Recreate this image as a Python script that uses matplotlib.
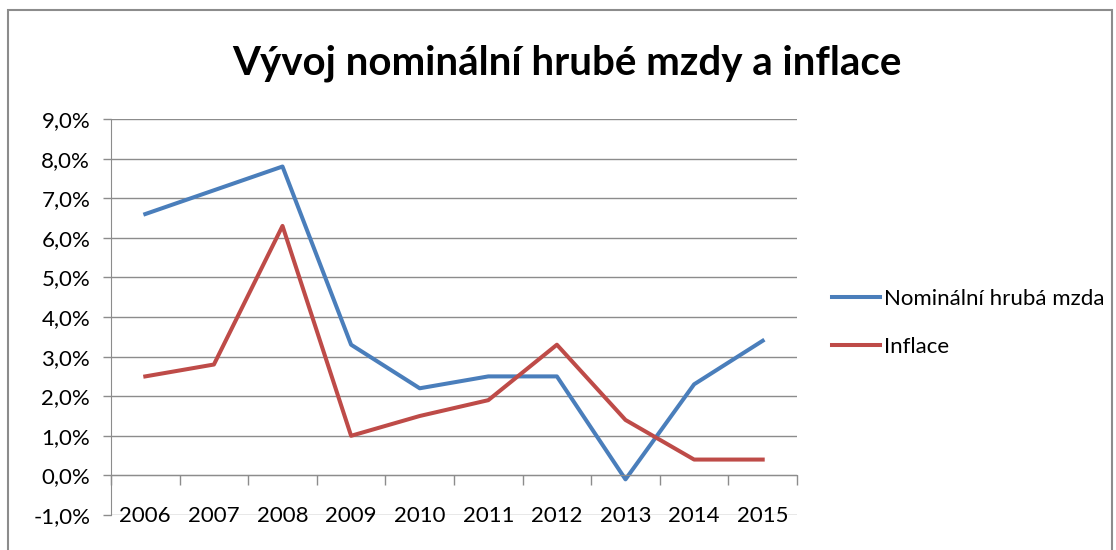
import matplotlib.pyplot as plt
from matplotlib.patches import Rectangle
from matplotlib.ticker import FuncFormatter

plt.rcParams['font.family'] = ['Lato', 'DejaVu Sans']

years = ["2006", "2007", "2008", "2009", "2010", "2011", "2012", "2013", "2014", "2015"]
mzda = [6.6, 7.2, 7.8, 3.3, 2.2, 2.5, 2.5, -0.1, 2.3, 3.4]
inflace = [2.5, 2.8, 6.3, 1.0, 1.5, 1.9, 3.3, 1.4, 0.4, 0.4]

W, H = 1116, 550
fig = plt.figure(figsize=(W / 100, H / 100), dpi=100)
ax = fig.add_axes([111 / W, 1 - 515 / H, (797 - 111) / W, (515 - 119) / H])

# outer chart border
fig.patches.append(Rectangle((8 / W, -0.1), (1112 - 8) / W, 1.1 - 10 / H,
                             transform=fig.transFigure, fill=False,
                             edgecolor="#8c8c8c", lw=1.5))

x = list(range(len(years)))
ax.plot(x, mzda, color="#4a7ebb", lw=2.9, label="Nominální hrubá mzda", solid_joinstyle="round")
ax.plot(x, inflace, color="#be4b48", lw=2.9, label="Inflace", solid_joinstyle="round")

ax.set_xlim(-0.5, len(years) - 0.5)
ax.set_ylim(-1, 9)
ax.set_yticks(range(-1, 10))
ax.yaxis.set_major_formatter(FuncFormatter(lambda v, p: f"{v:.1f}%".replace(".", ",")))
ax.yaxis.grid(True, color="#8c8c8c", lw=1)
ax.set_axisbelow(True)

for s in ["top", "right"]:
    ax.spines[s].set_visible(False)
ax.spines["left"].set_color("#8c8c8c")
ax.spines["bottom"].set_color("#8c8c8c")
ax.spines["bottom"].set_position(("data", 0))

ax.set_xticks([i - 0.5 for i in range(len(years) + 1)])
ax.set_xticklabels([])
ax.tick_params(axis="x", direction="out", length=7, color="#8c8c8c", width=1)
ax.tick_params(axis="y", direction="out", length=6, color="#8c8c8c", width=1,
               labelsize=16, pad=9)

for i, yr in enumerate(years):
    ax.text(i, -1.03, yr, ha="center", va="center", fontsize=16)

fig.text(567 / W, 1 - 63 / H, "Vývoj nominální hrubé mzdy a inflace",
         ha="center", va="center", fontsize=29, fontweight="bold")

fig.legend(loc="center left", bbox_to_anchor=(823 / W, 1 - 323 / H), frameon=False,
           borderaxespad=0, fontsize=16, handlelength=2.15, handletextpad=0.18,
           labelspacing=1.25)

fig.savefig("out.png", dpi=100)
